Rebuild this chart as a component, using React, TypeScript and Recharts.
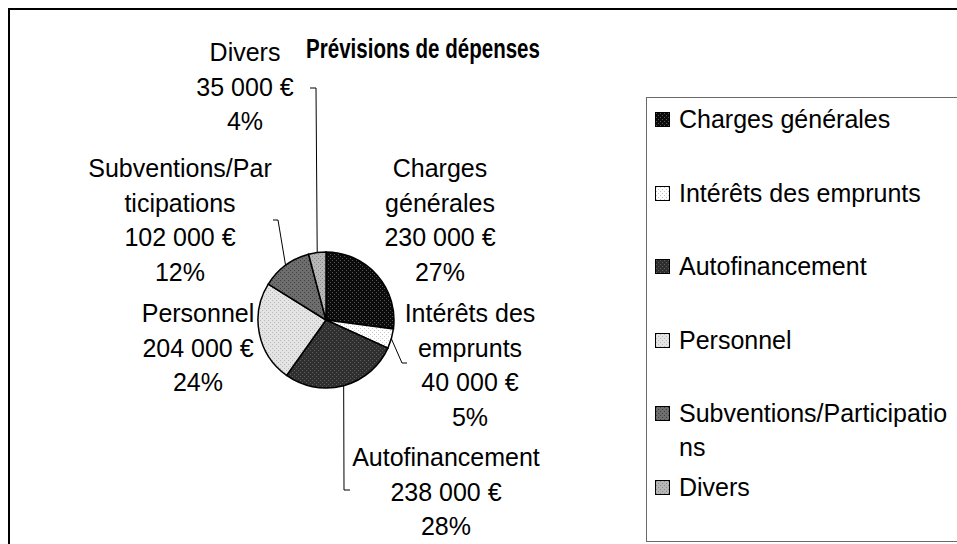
import React from 'react'
import { PieChart, Pie, Cell, Legend } from 'recharts'

const categories = [
  'Charges générales',
  'Intérêts des emprunts',
  'Autofinancement',
  'Personnel',
  'Subventions/Participations',
  'Divers',
]
const amounts = [230000, 40000, 238000, 204000, 102000, 35000]
// how the old chart wrapped the names next to the pie
const labelNames = [
  ['Charges', 'générales'],
  ['Intérêts des', 'emprunts'],
  ['Autofinancement'],
  ['Personnel'],
  ['Subventions/Par', 'ticipations'],
  ['Divers'],
]

const data = categories.map((name, i) => ({ name, value: amounts[i] }))

// dotted fills, one per slice
const patterns = [
  { id: 'p-charges', bg: '#0b0b0b', dot: '#555555' },
  { id: 'p-interets', bg: '#ffffff', dot: '#c4c4c4' },
  { id: 'p-auto', bg: '#2f2f2f', dot: '#5e5e5e' },
  { id: 'p-personnel', bg: '#e4e4e4', dot: '#b8b8b8' },
  { id: 'p-subv', bg: '#6e6e6e', dot: '#404040' },
  { id: 'p-divers', bg: '#b6b6b6', dot: '#888888' },
]

// label block placement relative to the pie centre (first text line), and leader elbows
const labelPlace: { dx: number; dy: number; leader: number[][] | null }[] = [
  { dx: 114, dy: -152, leader: null },
  { dx: 144, dy: -7, leader: [[76, 43], [81, 43]] },
  { dx: 120, dy: 137, leader: [[18, 170], [24, 170]] },
  { dx: -128, dy: -7, leader: null },
  { dx: -146, dy: -152, leader: [[-48, -100], [-53, -100]] },
  { dx: -81, dy: -268, leader: [[-10, -232], [-16, -232]] },
]

const FONT = '"Liberation Sans", Arial, sans-serif'
const LINE = 34.5
const RAD = Math.PI / 180

const euro = (v: number): string => String(v).replace(/\B(?=(\d{3})+(?!\d))/g, ' ') + ' €'

const renderLabel = (props: any) => {
  const { cx, cy, index, value, percent, midAngle, outerRadius } = props
  const place = labelPlace[index]
  const lines = [...labelNames[index], euro(value), `${Math.round(percent * 100)}%`]
  const ex = cx + outerRadius * Math.cos(-midAngle * RAD)
  const ey = cy + outerRadius * Math.sin(-midAngle * RAD)
  return (
    <g>
      {place.leader && (
        <polyline
          points={[[ex, ey], ...place.leader.map(([x, y]) => [cx + x, cy + y])].map((p) => p.join(',')).join(' ')}
          fill="none"
          stroke="#000"
          strokeWidth={1}
        />
      )}
      {lines.map((t, i) => (
        <text
          key={i}
          x={cx + place.dx}
          y={cy + place.dy + i * LINE}
          textAnchor="middle"
          dominantBaseline="central"
          fontFamily={FONT}
          fontSize={25}
          fill="#000"
        >
          {t}
        </text>
      ))}
    </g>
  )
}

const renderLegend = () => (
  <div
    style={{
      position: 'relative',
      width: 330,
      height: 443,
      border: '1px solid #6a6a6a',
      background: '#fff',
      fontFamily: FONT,
      fontSize: 25,
      color: '#000',
    }}
  >
    {categories.map((name, i) => (
      <div key={name} style={{ position: 'absolute', left: 0, top: 4 + i * 73.5, display: 'flex', alignItems: 'flex-start' }}>
        <div style={{ width: 13, height: 13, marginLeft: 8, marginTop: 10, border: '1px solid #000' }}>
          <svg width={13} height={13} style={{ display: 'block' }}>
            <rect width={13} height={13} fill={`url(#${patterns[i].id})`} />
          </svg>
        </div>
        <div style={{ marginLeft: 9, width: 275, lineHeight: '34px', wordBreak: 'break-all' }}>{name}</div>
      </div>
    ))}
  </div>
)

export default function App() {
  return (
    <>
      <style>{'body{overflow:hidden}'}</style>
      <svg width={0} height={0} style={{ position: 'absolute' }}>
        <defs>
          {patterns.map((p) => (
            <pattern key={p.id} id={p.id} width={4} height={4} patternUnits="userSpaceOnUse">
              <rect width={4} height={4} fill={p.bg} />
              <rect x={0} y={0} width={1} height={1} fill={p.dot} />
              <rect x={2} y={2} width={1} height={1} fill={p.dot} />
            </pattern>
          ))}
        </defs>
      </svg>
      <div
        style={{
          position: 'absolute',
          left: 8,
          top: 8,
          width: 947,
          height: 534,
          borderLeft: '2px solid #000',
          borderTop: '2px solid #000',
          background: '#fff',
          fontFamily: FONT,
        }}
      >
        <div
          style={{
            position: 'absolute',
            left: 413,
            top: 39,
            transform: 'translate(-50%, -50%) scaleX(0.76)',
            fontWeight: 'bold',
            fontSize: 27,
            lineHeight: 1,
            whiteSpace: 'nowrap',
            color: '#000',
          }}
        >
          Prévisions de dépenses
        </div>
        <PieChart width={947} height={534} margin={{ top: 0, right: 0, bottom: 0, left: 0 }}>
          <Pie
            data={data}
            dataKey="value"
            nameKey="name"
            cx={316}
            cy={310}
            outerRadius={68}
            startAngle={90}
            endAngle={-270}
            stroke="#000"
            strokeWidth={1.5}
            label={renderLabel}
            labelLine={false}
            isAnimationActive={false}
          >
            {data.map((d, i) => (
              <Cell key={d.name} fill={`url(#${patterns[i].id})`} />
            ))}
          </Pie>
          <Legend
            layout="vertical"
            align="right"
            verticalAlign="top"
            content={renderLegend}
            wrapperStyle={{ left: 636, top: 87, width: 332, height: 445 }}
          />
        </PieChart>
      </div>
    </>
  )
}
